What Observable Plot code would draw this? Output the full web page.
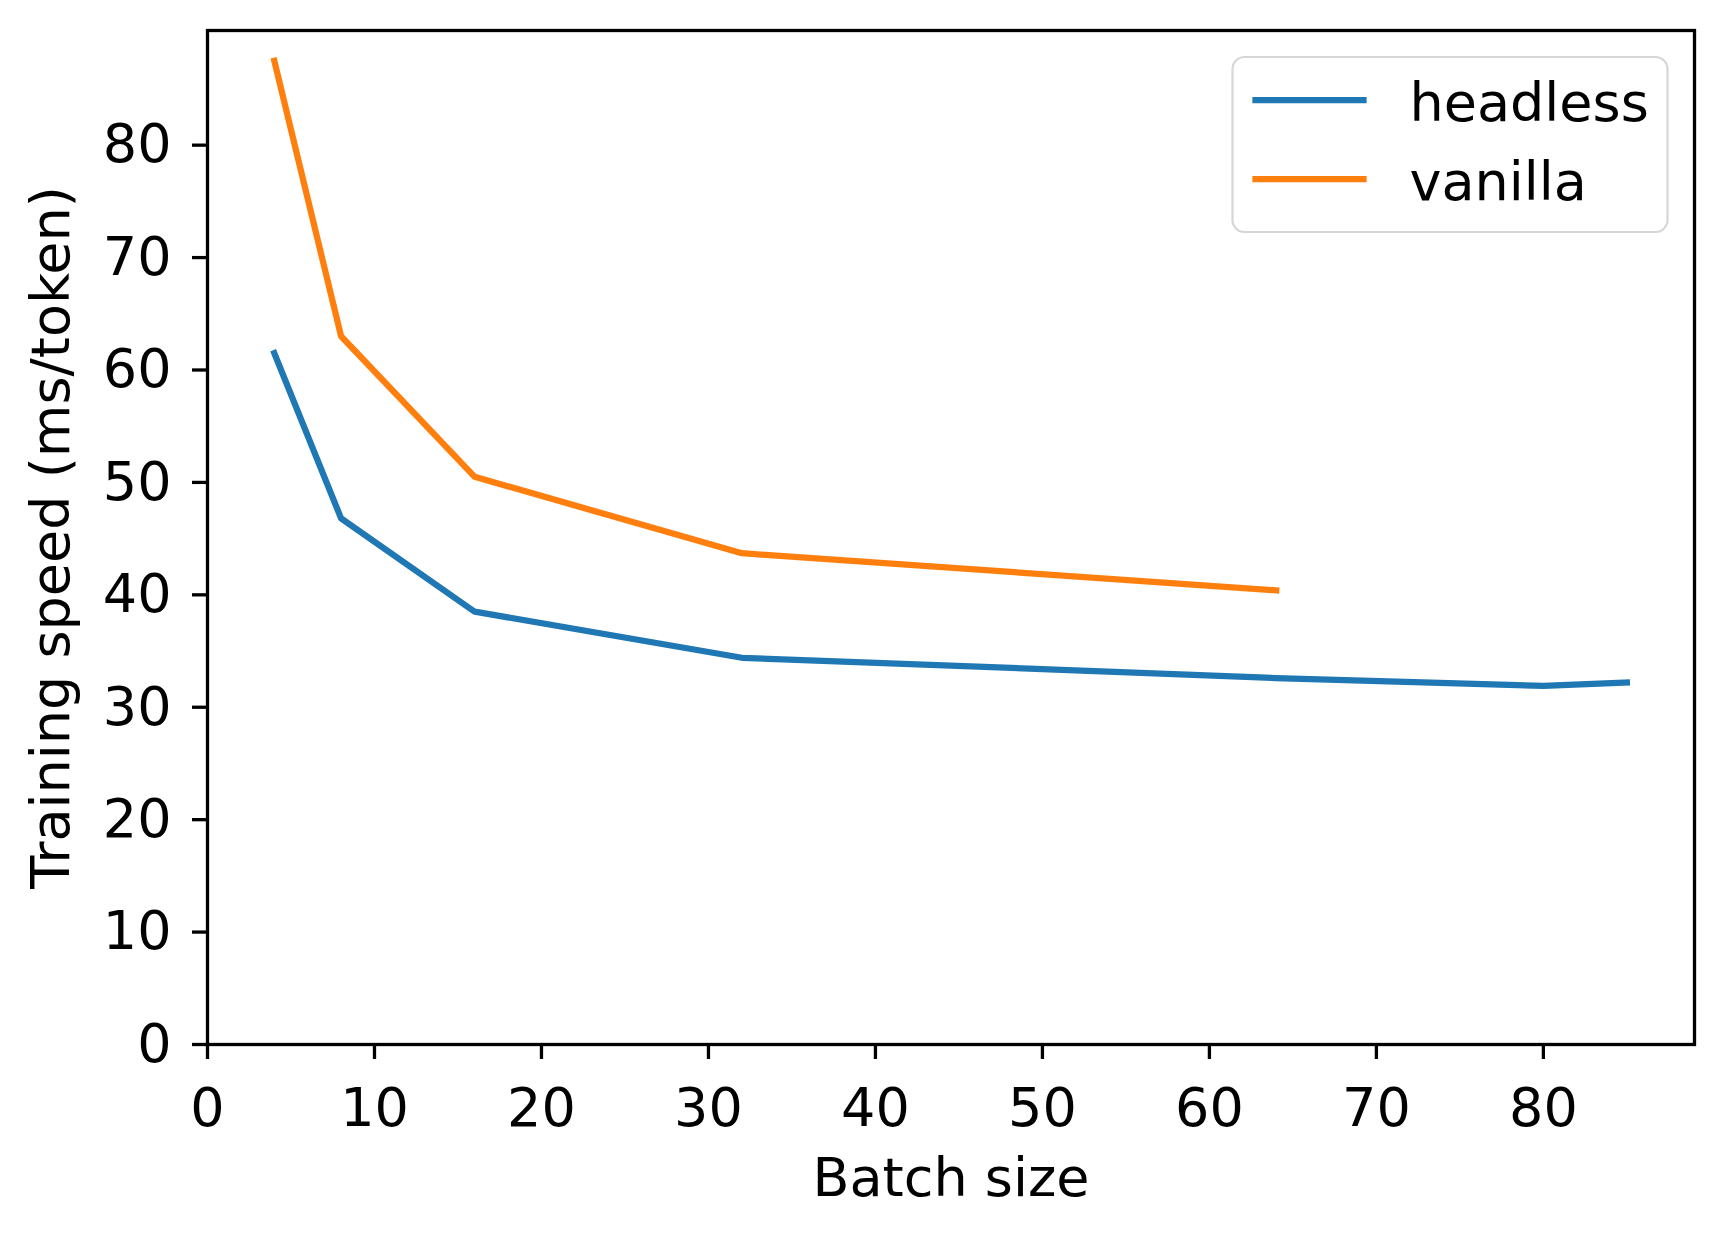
<!DOCTYPE html>
<html>
<head>
<meta charset="utf-8">
<script src="https://cdn.jsdelivr.net/npm/d3@7"></script>
<script src="https://cdn.jsdelivr.net/npm/@observablehq/plot@0.6"></script>
<style>
  html, body { margin: 0; padding: 0; background: #ffffff; }
  #chart { width: 1723px; height: 1234px; }
</style>
</head>
<body>
<div id="chart"></div>
<script>
// ---- data ----
const seriesNames = ["headless", "vanilla"];
const seriesColors = ["#1f77b4", "#ff7f0e"];
const batchHeadless = [4, 8, 16, 32, 64, 80, 85];
const speedHeadless = [61.5, 46.8, 38.5, 34.4, 32.6, 31.9, 32.2];
const batchVanilla = [4, 8, 16, 32, 64];
const speedVanilla = [87.5, 63.0, 50.5, 43.7, 40.4];
const xTicks = [0, 10, 20, 30, 40, 50, 60, 70, 80];
const yTicks = [0, 10, 20, 30, 40, 50, 60, 70, 80];
const xLabel = "Batch size";
const yLabel = "Training speed (ms/token)";

const rows = [
  ...batchHeadless.map((b, i) => ({series: seriesNames[0], batch: b, speed: speedHeadless[i]})),
  ...batchVanilla.map((b, i) => ({series: seriesNames[1], batch: b, speed: speedVanilla[i]}))
];

const FONT = 54;

const plot = Plot.plot({
  width: 1723,
  height: 1234,
  marginLeft: 207,
  marginRight: 29,
  marginTop: 30,
  marginBottom: 190,
  style: {fontFamily: "'DejaVu Sans', sans-serif", fontSize: FONT + "px", color: "#000", background: "#fff"},
  x: {domain: [0, 89.05]},
  y: {domain: [0, 90.2]},
  color: {domain: seriesNames, range: seriesColors},
  marks: [
    Plot.line(rows, {
      x: "batch", y: "speed", z: "series", stroke: "series",
      strokeWidth: 6.25, strokeLinecap: "square", strokeLinejoin: "round"
    }),
    Plot.frame({stroke: "#000", strokeWidth: 3.3}),
    Plot.axisX({ticks: xTicks, tickSize: 15, tickPadding: 28, strokeWidth: 3.3, fontSize: FONT, label: null, tickFormat: d => String(d)}),
    Plot.axisY({ticks: yTicks, tickSize: 15, tickPadding: 21, strokeWidth: 3.3, fontSize: FONT, label: null, tickFormat: d => String(d)}),
    Plot.text([xLabel], {frameAnchor: "bottom", dy: 151, lineAnchor: "bottom", textAnchor: "middle", fontSize: FONT, fill: "#000"}),
    Plot.text([yLabel], {frameAnchor: "left", dx: -156, rotate: -90, textAnchor: "middle", lineAnchor: "middle", fontSize: FONT, fill: "#000"})
  ]
});

document.getElementById("chart").appendChild(plot);

// ---- legend inside the axes (upper right), positioned from the scales ----
const xs = plot.scale("x"), ys = plot.scale("y");
const frameRight = Math.max(...xs.range);
const frameTop = Math.min(...ys.range);
const boxW = 435, boxH = 175;
const boxX = frameRight - 26.5 - boxW;
const boxY = frameTop + 27;
const svg = d3.select(plot);
const g = svg.append("g")
  .attr("font-family", "'DejaVu Sans', sans-serif")
  .attr("font-size", FONT)
  .attr("text-anchor", "start");
g.append("rect")
  .attr("x", boxX).attr("y", boxY).attr("width", boxW).attr("height", boxH)
  .attr("rx", 12).attr("ry", 12)
  .attr("fill", "#fff").attr("fill-opacity", 0.8)
  .attr("stroke", "#d6d6d6").attr("stroke-width", 2.2);
seriesNames.forEach((name, i) => {
  const cy = boxY + 43 + i * 79;
  g.append("line")
    .attr("x1", boxX + 23).attr("x2", boxX + 131)
    .attr("y1", cy).attr("y2", cy)
    .attr("stroke", seriesColors[i]).attr("stroke-width", 6.25)
    .attr("stroke-linecap", "square");
  g.append("text")
    .attr("x", boxX + 177).attr("y", cy).attr("dy", "0.39em")
    .attr("text-anchor", "start")
    .attr("fill", "#000")
    .text(name);
});
</script>
</body>
</html>
